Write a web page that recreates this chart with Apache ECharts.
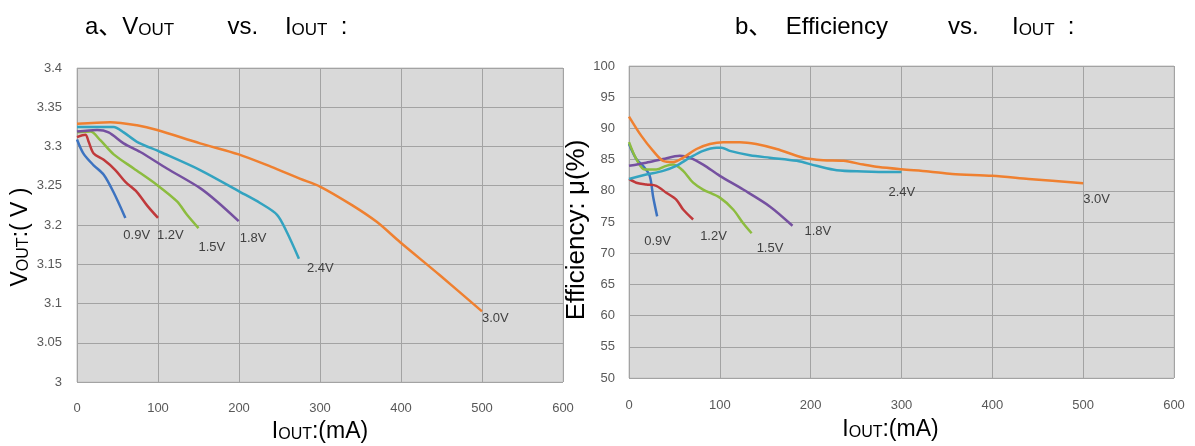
<!DOCTYPE html>
<html><head><meta charset="utf-8">
<script src="https://cdn.jsdelivr.net/npm/echarts@6/dist/echarts.min.js"></script>
<style>html,body{margin:0;padding:0;background:#fff}#c{width:1195px;height:446px}</style>
</head><body><div id="c"></div>
<script>
// ---------- data ----------
const seriesNames = ['0.9V', '1.2V', '1.5V', '1.8V', '2.4V', '3.0V'];

// a) VOUT (V) vs IOUT (mA)
const vout09 = [[0,3.309],[8,3.291],[20.6,3.276],[33,3.264],[45,3.242],[59.7,3.209]];
const vout12 = [[0,3.312],[10.3,3.315],[14.4,3.306],[20.6,3.291],[33,3.283],[47.3,3.270],[59.7,3.255],[74,3.242],[86.4,3.225],[100,3.209]];
const vout15 = [[0,3.318],[16.5,3.319],[28.8,3.308],[45.3,3.290],[70,3.272],[98.8,3.251],[123.5,3.230],[135.8,3.213],[150,3.196]];
const vout18 = [[0,3.319],[24.7,3.321],[39,3.318],[57.6,3.304],[78.2,3.293],[111,3.272],[152,3.247],[172.8,3.230],[199.6,3.205]];
const vout24 = [[0,3.325],[45.3,3.325],[57.6,3.318],[74,3.306],[103,3.293],[152,3.270],[201.6,3.242],[226,3.228],[247,3.213],[259,3.191],[274,3.157]];
const vout30 = [[0,3.329],[41,3.331],[74,3.327],[99,3.321],[152,3.304],[199.6,3.290],[240,3.274],[275,3.259],[300,3.249],[340,3.225],[370,3.204],[399,3.178],[448,3.136],[500,3.090]];

// b) Efficiency (%) vs IOUT (mA)
const eff09 = [[0,87.5],[8,85.1],[15.4,84.0],[22.8,82.4],[26.5,79.1],[31,75.9]];
const eff12 = [[0,81.9],[8,81.3],[19,81.0],[30,80.8],[41,79.7],[52,78.6],[59.6,77.0],[70.6,75.4]];
const eff15 = [[0,87.8],[8,85.1],[17.3,83.4],[30,83.4],[41,84.0],[48.5,84.2],[59.6,83.2],[70.6,81.3],[81.6,80.2],[100,78.9],[114.7,77.0],[125.7,74.8],[135,73.2]];
const eff18 = [[0,84.0],[19,84.5],[37.5,85.1],[56,85.6],[67,85.3],[81.6,84.2],[100,82.4],[125.7,80.2],[155,77.5],[180,74.4]];
const eff24 = [[0,81.9],[19,82.6],[37.5,83.2],[52,84.0],[67,85.3],[81.6,86.4],[96.3,86.9],[102,86.9],[111,86.4],[133,85.7],[155,85.3],[184.6,84.8],[206.6,84.0],[228.7,83.3],[258,83.1],[287.5,83.0],[300,83.0]];
const eff30 = [[0,91.9],[13.6,88.8],[26.5,86.4],[37.5,84.8],[48.5,84.6],[59.6,85.3],[74.3,86.7],[89,87.5],[103.7,87.8],[122,87.8],[140,87.5],[162.5,86.7],[192,85.3],[214,84.9],[236,84.8],[258,84.2],[275,83.8],[300,83.45],[330,83.1],[355.7,82.7],[400,82.4],[440,81.9],[500,81.2]];

// axis ranges
const xRange = {min: 0, max: 600, interval: 100};
const voutRange = {min: 3, max: 3.4, interval: 0.05};
const effRange = {min: 50, max: 100, interval: 5};

// ---------- styles ----------
const FONT = "'Liberation Sans','Noto Sans CJK SC',sans-serif";
const colors = ['#3D73C0', '#C0393B', '#8CBC3F', '#7550A0', '#33A3C0', '#EF8030'];
const leftLabelOffsets  = [[-2,17],[-1,17],[0,19],[1,17],[8,10],[0,7]];
const rightLabelOffsets = [[-13,25],[7,17],[5,15],[12,6],[-13,20],[0,16]];

const nameRich = {
  b: {fontSize: 23, color: '#000', fontFamily: FONT, verticalAlign: 'bottom'},
  s: {fontSize: 16, color: '#000', fontFamily: FONT, verticalAlign: 'bottom'}
};
const titleRich = {
  n: {fontSize: 24, color: '#000', fontFamily: FONT, fontWeight: 'normal', verticalAlign: 'bottom'},
  s: {fontSize: 17, color: '#000', fontFamily: FONT, fontWeight: 'normal', verticalAlign: 'bottom'}
};

function mkSeries(data, i, gridIdx, offsets) {
  return {
    name: seriesNames[i], type: 'line', xAxisIndex: gridIdx, yAxisIndex: gridIdx,
    data: data, showSymbol: false, symbol: 'none', smooth: 0.3,
    lineStyle: {color: colors[i], width: 2.5}, itemStyle: {color: colors[i]},
    endLabel: {show: true, formatter: '{a}', color: '#404040', fontSize: 13, fontFamily: FONT,
               distance: 0, offset: offsets[i]},
    z: 3 + i
  };
}

const gridBase = {show: true, backgroundColor: '#D9D9D9', borderColor: '#C4C4C4', borderWidth: 1, containLabel: false, outerBoundsMode: 'none'};
const axisCommon = {
  type: 'value', axisLine: {show: false}, axisTick: {show: false},
  axisLabel: {color: '#595959', fontSize: 13, fontFamily: FONT},
  splitLine: {show: true, lineStyle: {color: '#A3A3A3', width: 1}}
};

const option = {
  animation: false,
  textStyle: {fontFamily: FONT},
  title: [
    {left: 80, top: 10, text: '{n|a、V}{s|OUT}{n|        vs.    I}{s|OUT}{n|  :}', textStyle: {fontWeight: 'normal', rich: titleRich}},
    {left: 730, top: 10, text: '{n|b、  Efficiency         vs.     I}{s|OUT}{n|  :}', textStyle: {fontWeight: 'normal', rich: titleRich}}
  ],
  grid: [
    Object.assign({left: 77, top: 68, width: 486, height: 314}, gridBase),
    Object.assign({left: 629, top: 66, width: 545, height: 312}, gridBase)
  ],
  xAxis: [
    Object.assign({}, axisCommon, xRange, {gridIndex: 0,
      axisLabel: Object.assign({}, axisCommon.axisLabel, {margin: 20}),
      name: '{b|I}{s|OUT}{b|:(mA)}', nameLocation: 'middle', nameGap: 36,
      nameTextStyle: {rich: nameRich}}),
    Object.assign({}, axisCommon, xRange, {gridIndex: 1,
      axisLabel: Object.assign({}, axisCommon.axisLabel, {margin: 21}),
      name: '{b|I}{s|OUT}{b|:(mA)}', nameLocation: 'middle', nameGap: 40,
      nameTextStyle: {rich: nameRich, padding: [0, 22, 0, 0]}})
  ],
  yAxis: [
    Object.assign({}, axisCommon, voutRange, {gridIndex: 0,
      axisLabel: Object.assign({}, axisCommon.axisLabel, {margin: 15}),
      name: '{b|V}{s|OUT}{b|:( V )}', nameLocation: 'middle', nameGap: 45,
      nameTextStyle: {rich: nameRich, padding: [0, 24, 0, 0]}}),
    Object.assign({}, axisCommon, effRange, {gridIndex: 1,
      axisLabel: Object.assign({}, axisCommon.axisLabel, {margin: 14}),
      name: 'Efficiency: μ(%)', nameLocation: 'middle', nameGap: 28,
      nameTextStyle: {fontSize: 26, color: '#000', fontFamily: FONT, padding: [0, 16, 0, 0]}})
  ],
  series: [
    mkSeries(vout09, 0, 0, leftLabelOffsets),
    mkSeries(vout12, 1, 0, leftLabelOffsets),
    mkSeries(vout15, 2, 0, leftLabelOffsets),
    mkSeries(vout18, 3, 0, leftLabelOffsets),
    mkSeries(vout24, 4, 0, leftLabelOffsets),
    mkSeries(vout30, 5, 0, leftLabelOffsets),
    mkSeries(eff09, 0, 1, rightLabelOffsets),
    mkSeries(eff12, 1, 1, rightLabelOffsets),
    mkSeries(eff15, 2, 1, rightLabelOffsets),
    mkSeries(eff18, 3, 1, rightLabelOffsets),
    mkSeries(eff24, 4, 1, rightLabelOffsets),
    mkSeries(eff30, 5, 1, rightLabelOffsets)
  ]
};

const chart = echarts.init(document.getElementById('c'), null, {renderer: 'canvas'});
chart.setOption(option);
</script>
</body></html>
